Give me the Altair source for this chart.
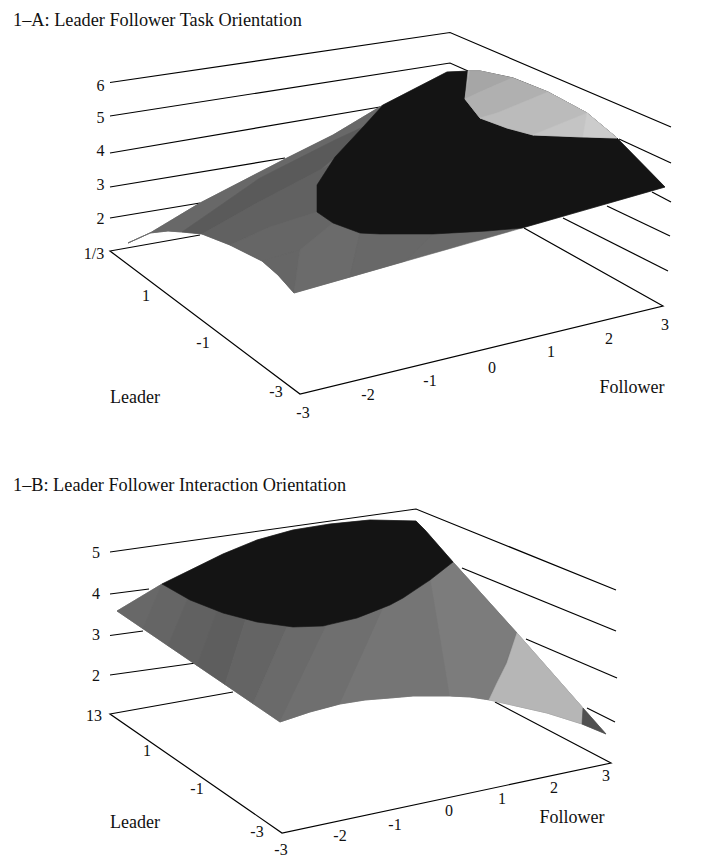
import altair as alt
import pandas as pd

FONT = "Liberation Serif"
X_DOMAIN = [8, 703]
Y_DOMAIN = [858, 8]

# ---- reference wall / floor lines (picture coordinates)
LINES = [
    # panel A
    [(110, 82.5), (450, 32.5), (671, 127)],
    [(110, 116), (450, 63), (468, 71)],
    [(619, 139), (671, 163)],
    [(110, 153), (380, 107)],
    [(652, 192), (671, 202)],
    [(110, 187), (285, 158)],
    [(607, 206), (670, 236)],
    [(110, 218), (200, 203)],
    [(563, 218), (668, 271)],
    [(200, 235), (110, 251), (300, 394), (663, 306), (524, 228)],
    # panel B
    [(110, 552), (416, 509), (616, 590)],
    [(110, 594), (149, 589)],
    [(462, 568), (616, 631)],
    [(110, 635.5), (143, 631)],
    [(526, 639), (617, 678)],
    [(110, 675), (196, 663)],
    [(587, 708), (615, 722)],
    [(233, 692), (110, 714), (282, 833), (611, 763), (495, 702)],
]

# ---- surface A
A_SURFACE = [(128, 243), (150, 233), (200, 203), (287, 158), (333, 135), (383, 105), (447, 72), (470, 71),
             (480, 71), (513, 78), (548, 92), (587, 113), (617, 138), (665, 187), (522, 228), (294, 293),
             (278, 275), (262, 261), (230, 245), (202, 234), (182, 232), (168, 231), (150, 233)]
A_FACETS = [
    ("#686868", [(128, 243), (150, 233), (200, 203), (287, 158), (333, 135), (383, 105), (363, 127), (335, 140),
                 (260, 178), (182, 232), (168, 231), (150, 233)]),
    ("#5a5a5a", [(182, 232), (260, 178), (335, 140), (363, 127), (335, 157), (320, 170), (257, 203), (202, 234)]),
    ("#616161", [(202, 234), (257, 203), (320, 170), (330, 165), (317, 212), (270, 227), (230, 245)]),
    ("#666666", [(230, 245), (270, 227), (317, 212), (333, 223), (300, 250), (262, 261)]),
    ("#666666", [(262, 261), (300, 250), (294, 293), (278, 275)]),
    ("#6b6b6b", [(300, 250), (333, 223), (360, 233), (350, 277), (294, 293)]),
    ("#686868", [(360, 233), (433, 234), (405, 261), (350, 277)]),
]
A_BLACK = [(383, 105), (447, 72), (470, 71), (480, 71), (513, 78), (548, 92), (587, 113), (617, 138), (665, 187),
           (522, 228), (487, 231), (433, 234), (380, 234), (360, 233), (333, 223), (317, 212), (317, 185),
           (335, 157), (363, 127)]
A_LIGHT = [(468, 71), (480, 71), (513, 78), (548, 92), (587, 113), (617, 138), (583, 137), (533, 135),
           (507, 128), (480, 118), (465, 99)]
A_LIGHT_FACETS = [
    ("#a6a6a6", [(470, 71), (480, 71), (512, 78), (480, 92), (465, 99)]),
    ("#b0b0b0", [(512, 78), (548, 92), (497, 113), (480, 118), (465, 99), (480, 92)]),
    ("#bbbbbb", [(548, 92), (587, 113), (533, 135), (507, 128), (480, 118), (497, 113)]),
    ("#c4c4c4", [(587, 113), (583, 137), (533, 135)]),
    ("#cccccc", [(587, 113), (617, 138), (583, 137)]),
]

# ---- surface B
B_SURFACE = [(117, 611), (162, 584), (223, 554), (257, 540), (293, 530), (330, 524), (370, 520), (416, 521),
             (425, 530), (453, 562), (517, 633), (583, 708), (606, 734), (582, 724), (547, 713), (490, 700),
             (470, 697), (450, 696), (413, 696), (390, 698), (365, 700), (340, 704), (310, 712), (280, 722)]
B_FACETS = [
    ("#686868", [(117, 611), (162, 584), (143, 628.7)]),
    ("#656565", [(162, 584), (188, 598), (168, 645.7), (143, 628.7)]),
    ("#616161", [(188, 598), (218, 608), (197, 665.5), (168, 645.7)]),
    ("#5e5e5e", [(218, 608), (247, 615), (225, 684.5), (197, 665.5)]),
    ("#646464", [(247, 615), (290, 620), (253, 703.6), (225, 684.5)]),
    ("#6a6a6a", [(290, 620), (330, 618), (280, 722), (253, 703.6)]),
    ("#6f6f6f", [(330, 618), (387, 600), (340, 704), (310, 712), (280, 722)]),
    ("#757575", [(387, 600), (430, 575), (450, 696), (413, 696), (390, 698), (365, 700), (340, 704)]),
    ("#7c7c7c", [(430, 575), (453, 562), (517, 633), (490, 700), (470, 697), (450, 696)]),
]
B_BLACK = [(162, 584), (223, 554), (257, 540), (293, 530), (330, 524), (370, 520), (416, 521), (425, 530),
           (453, 562), (430, 580), (403, 598), (390, 605), (357, 618), (323, 626), (293, 627), (257, 622),
           (223, 613), (190, 600)]
B_LIGHT = [(517, 633), (583, 708), (582, 724), (547, 713), (489, 700), (497, 683), (507, 663)]
B_TIP = [(583, 708), (606, 734), (582, 724)]

POLYGONS = (
    [("#696969", A_SURFACE)] + A_FACETS + [("#141414", A_BLACK), ("#b4b4b4", A_LIGHT)] + A_LIGHT_FACETS
    + [("#7a7a7a", B_SURFACE)] + B_FACETS
    + [("#141414", B_BLACK), ("#b6b6b6", B_LIGHT), ("#505050", B_TIP)]
)

# ---- texts
TITLES = [("1\u2013A: Leader Follower Task Orientation", 13, 21),
          ("1\u2013B: Leader Follower Interaction Orientation", 13, 486)]
AXIS_NAMES = [("Leader", 135, 398), ("Follower", 632, 388), ("Leader", 135, 823), ("Follower", 572, 818)]
TICKS = [
    ("6", 100.5, 86), ("5", 100.5, 118), ("4", 100.5, 151), ("3", 100.5, 185), ("2", 100.5, 219), ("1/3", 94, 254),
    ("1", 146, 296), ("-1", 203, 343), ("-3", 276, 392),
    ("-3", 303, 413), ("-2", 368, 395), ("-1", 430, 381), ("0", 492, 368), ("1", 551, 352), ("2", 609, 339), ("3", 665, 325),
    ("5", 96, 553), ("4", 96, 594), ("3", 96, 635), ("2", 96, 676), ("13", 94, 716),
    ("1", 147, 751), ("-1", 197, 789), ("-3", 257, 832),
    ("-3", 281, 850), ("-2", 340, 836), ("-1", 395, 825), ("0", 449, 811), ("1", 502, 799), ("2", 554, 788), ("3", 606, 776),
]

x_enc = dict(scale=alt.Scale(domain=X_DOMAIN, nice=False, zero=False), axis=None)
y_enc = dict(scale=alt.Scale(domain=Y_DOMAIN, nice=False, zero=False), axis=None)


def spans(points):
    """Turn an x-monotone outline into x / top / bottom rows for an area mark."""
    rows = []
    n = len(points)
    for x in sorted({p[0] for p in points}):
        ys = []
        for i in range(n):
            (x1, y1), (x2, y2) = points[i], points[(i + 1) % n]
            if min(x1, x2) <= x <= max(x1, x2):
                if x1 == x2:
                    ys += [y1, y2]
                else:
                    ys.append(y1 + (y2 - y1) * (x - x1) / (x2 - x1))
        rows.append({"x": x, "top": min(ys), "bottom": max(ys)})
    return pd.DataFrame(rows)


line_rows = [{"id": i, "k": k, "x": p[0], "y": p[1]} for i, line in enumerate(LINES) for k, p in enumerate(line)]
lines = alt.Chart(pd.DataFrame(line_rows)).mark_line(color="black", strokeWidth=1.2).encode(
    x=alt.X("x:Q", **x_enc), y=alt.Y("y:Q", **y_enc), detail="id:N", order="k:Q")

areas = [
    alt.Chart(spans(pts)).mark_area(color=col, stroke=col, strokeWidth=0.6, opacity=1).encode(
        x=alt.X("x:Q", **x_enc), y=alt.Y("top:Q", **y_enc), y2="bottom:Q")
    for col, pts in POLYGONS
]


def text_layer(items, size, align):
    df = pd.DataFrame(items, columns=["t", "x", "y"])
    return alt.Chart(df).mark_text(font=FONT, fontSize=size, align=align, baseline="middle", color="#111111").encode(
        x=alt.X("x:Q", **x_enc), y=alt.Y("y:Q", **y_enc), text="t:N")


chart = alt.layer(
    lines, *areas,
    text_layer(TICKS, 16, "center"),
    text_layer(AXIS_NAMES, 18, "center"),
    text_layer(TITLES, 18.3, "left"),
).properties(width=695, height=850, padding=0, autosize=alt.AutoSizeParams(type="none")).configure_view(stroke=None)

chart.save("out.html", embed_options={"renderer": "svg", "actions": False})
